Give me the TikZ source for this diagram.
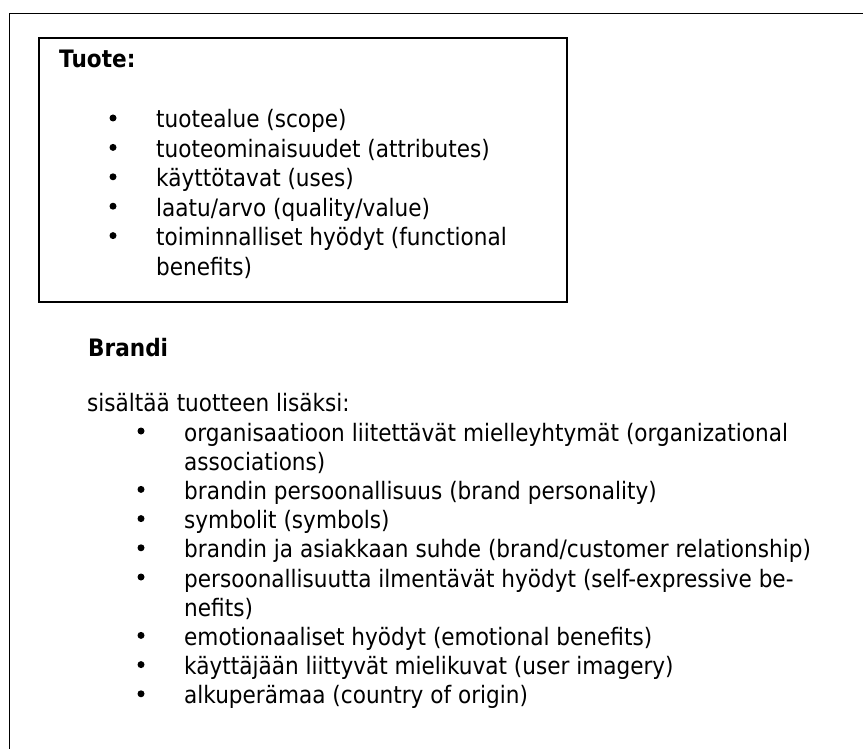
\documentclass[tikz,border=0pt]{standalone}
\usepackage{fontspec}
\setmainfont{DejaVu Sans}[FakeStretch=0.9]
\begin{document}
\begin{tikzpicture}[x=1pt,y=-1pt,
  txt/.style={anchor=base west, inner sep=0pt, text=black,
    font=\fontsize{24}{29}\selectfont},
  hd/.style={txt, font=\fontsize{24}{29}\selectfont\bfseries},
  dot/.style={circle, fill=black, inner sep=0pt, minimum size=7pt},
  frame/.style={line width=1.9pt, draw=black}]
\useasboundingbox (0,0) rectangle (863,749);

% page frame (top and left edges) and the product box
\draw[frame] (9.5,749) -- (9.5,13.5) -- (863,13.5);
\draw[frame] (39,38) rectangle (567,302);

% product
\node[hd] (tuote) at (59,68) {Tuote:};
\foreach \y/\n in {128/1,157.4/2,186.8/3,216.2/4,245.6/5}
  \node[dot] (tb\n) at (113,\y-10) {};
\node[txt] (t1) at (156,128)   {tuotealue (scope)};
\node[txt] (t2) at (156,157.4) {tuoteominaisuudet (attributes)};
\node[txt] (t3) at (156,186.8) {käyttötavat (uses)};
\node[txt] (t4) at (156,216.2) {laatu/arvo (quality/value)};
\node[txt] (t5) at (156,245.6) {toiminnalliset hyödyt (functional};
\node[txt] (t5b) at (156,275)  {benefits)};

% brand
\node[hd] (brandi) at (88,356.5) {Brandi};
\node[txt] (lisaksi) at (87,411.5) {sisältää tuotteen lisäksi:};
\foreach \y/\n in {441/1,499.4/2,528.6/3,557.8/4,587/5,645.4/6,674.6/7,703.8/8}
  \node[dot] (bb\n) at (141,\y-10) {};
\node[txt] (b1)  at (184,441)   {organisaatioon liitettävät mielleyhtymät (organizational};
\node[txt] (b1b) at (184,470.2) {associations)};
\node[txt] (b2)  at (184,499.4) {brandin persoonallisuus (brand personality)};
\node[txt] (b3)  at (184,528.6) {symbolit (symbols)};
\node[txt] (b4)  at (184,557.8) {brandin ja asiakkaan suhde (brand/customer relationship)};
\node[txt] (b5)  at (184,587)   {persoonallisuutta ilmentävät hyödyt (self-expressive be-};
\node[txt] (b5b) at (184,616.2) {nefits)};
\node[txt] (b6)  at (184,645.4) {emotionaaliset hyödyt (emotional benefits)};
\node[txt] (b7)  at (184,674.6) {käyttäjään liittyvät mielikuvat (user imagery)};
\node[txt] (b8)  at (184,703.8) {alkuperämaa (country of origin)};
\end{tikzpicture}
\end{document}
